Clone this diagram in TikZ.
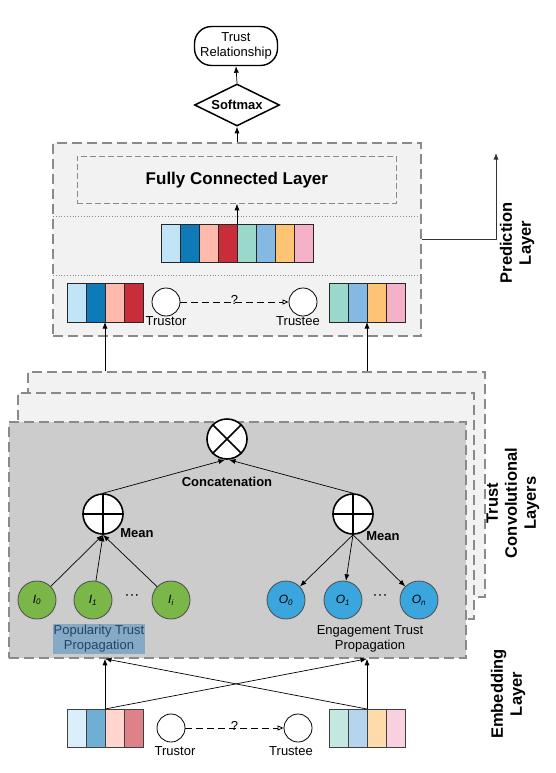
\documentclass[tikz,border=0pt]{standalone}
\usepackage{fontspec}
\setmainfont{Liberation Sans}
\usetikzlibrary{arrows.meta,shapes.geometric,calc}
\definecolor{c1}{HTML}{C1E4F7}
\definecolor{c2}{HTML}{0F7AB8}
\definecolor{c3}{HTML}{FFB9AD}
\definecolor{c4}{HTML}{C92D39}
\definecolor{c5}{HTML}{9AD8CB}
\definecolor{c6}{HTML}{83B9E3}
\definecolor{c7}{HTML}{FFC374}
\definecolor{c8}{HTML}{F5B1C8}
\definecolor{laygray}{HTML}{8A8A8A}
\definecolor{lightfill}{HTML}{F2F2F2}
\definecolor{frontfill}{HTML}{CCCCCC}
\definecolor{greenc}{HTML}{7AB648}
\definecolor{bluec}{HTML}{3AA6DD}
\definecolor{hlfill}{HTML}{86A9C5}
\definecolor{hltext}{HTML}{1F4569}
\begin{document}
\begin{tikzpicture}[x=1pt,y=-1pt,
  layerbox/.style={draw=laygray, line width=1.8pt, dash pattern=on 10pt off 5pt},
  cellbox/.style={draw=black!85, line width=0.8pt, minimum width=19pt, minimum height=38pt, inner sep=0pt, anchor=north west, outer sep=0pt},
  arr/.style={-{Latex[length=6.5pt,width=5pt]}, line width=0.7pt},
  txt/.style={font=\fontsize{13}{15}\selectfont, align=center, inner sep=0pt},
  btxt/.style={font=\bfseries\fontsize{13}{15}\selectfont, align=center, inner sep=0pt},
  dotstxt/.style={font=\fontsize{15}{15}\selectfont, inner sep=0pt},
  sidelabel/.style={font=\bfseries\fontsize{16.5}{19}\selectfont, align=center, rotate=90, inner sep=0pt},
  opcircle/.style={circle, draw=black, line width=1.6pt, fill=white, minimum size=40pt, inner sep=0pt},
  usercircle/.style={circle, draw=black, line width=0.8pt, fill=white, minimum size=28pt, inner sep=0pt},
  greennode/.style={circle, draw=black!70, line width=0.8pt, fill=greenc, minimum size=38pt, inner sep=0pt, font=\itshape\fontsize{12}{14}\selectfont},
  bluenode/.style={circle, draw=black!70, line width=0.8pt, fill=bluec, minimum size=38pt, inner sep=0pt, font=\itshape\fontsize{12}{14}\selectfont}
]
\useasboundingbox (0,0) rectangle (556,773);

% ---------- top: trust relationship and softmax ----------
\node[draw=black, line width=1.4pt, rounded corners=17pt, minimum width=83pt, minimum height=39pt, txt] (rel) at (236,46) {Trust\\Relationship};
\node[diamond, draw=black, line width=1.5pt, fill=white, minimum width=85pt, minimum height=42pt, aspect=2.1, inner sep=0pt, btxt] (soft) at (237,105) {Softmax};

% ---------- prediction layer ----------
\node[layerbox, fill=lightfill, minimum width=368pt, minimum height=193pt, inner sep=0pt, anchor=north west] (pred) at (52,142) {};
\node[draw=laygray, line width=0.8pt, dash pattern=on 6pt off 3pt, minimum width=319pt, minimum height=47pt, anchor=north west, inner sep=0pt, font=\bfseries\fontsize{17}{20}\selectfont] (fc) at (77,156) {Fully Connected Layer};
\coordinate (dl1a) at (53,216); \coordinate (dl1b) at (419,216);
\coordinate (dl2a) at (53,275); \coordinate (dl2b) at (419,275);
\draw[laygray, line width=0.8pt, dotted] (dl1a) -- (dl1b);
\draw[laygray, line width=0.8pt, dotted] (dl2a) -- (dl2b);

\foreach \i/\c in {0/c1,1/c2,2/c3,3/c4,4/c5,5/c6,6/c7,7/c8}{
  \node[cellbox, fill=\c] (pm\i) at ({161+19*\i},224) {};
}
\foreach \i/\c in {0/c1,1/c2,2/c3,3/c4}{
  \node[cellbox, fill=\c, minimum height=39pt] (pl\i) at ({67+19*\i},283) {};
}
\foreach \i/\c in {0/c5,1/c6,2/c7,3/c8}{
  \node[cellbox, fill=\c, minimum height=39pt] (pr\i) at ({329+19*\i},283) {};
}
\draw[arr] (pm3.north east) -- (fc.south -| pm3.north east);

\node[usercircle] (ptor) at (166,302) {};
\node[usercircle] (ptee) at (303,302) {};
\draw[line width=0.8pt, dash pattern=on 7pt off 4pt, -{Triangle[open,length=6pt,width=5pt]}] (ptor) -- node[above=-1pt, txt, yshift=-2pt] (pq) {?} (ptee);
\node[txt, anchor=north] (ptorl) at (166,316) {Trustor};
\node[txt, anchor=north] (pteel) at (298,316) {Trustee};

\draw[arr] (pred.north -| soft.south) -- (soft.south);
\draw[arr] (soft.north) -- (rel.south);

% side arrow and label
\coordinate (sideA) at (496,239);
\coordinate (sideB) at (496,153);
\draw[black!80, line width=0.7pt, -{Latex[length=6.5pt,width=5pt]}] (pred.east |- sideA) -- (sideA) -- (sideB);
\node[sidelabel] (predlab) at (517,243) {Prediction\\Layer};

% ---------- trust convolutional layers ----------
\node[layerbox, fill=lightfill, minimum width=457pt, minimum height=225pt, anchor=north west, inner sep=0pt] (back) at (27,371) {};
\node[layerbox, fill=lightfill, minimum width=456pt, minimum height=226pt, anchor=north west, inner sep=0pt] (mid) at (17,392) {};
\node[layerbox, fill=frontfill, minimum width=457pt, minimum height=236pt, anchor=north west, inner sep=0pt] (front) at (8,421) {};

\draw[arr] (back.north -| pl1.south east) -- (pl1.south east);
\draw[arr] (back.north -| pr1.south east) -- (pr1.south east);

\node[opcircle] (otimes) at (227,439) {};
\draw[line width=1.6pt] (otimes.45) -- (otimes.225) (otimes.135) -- (otimes.315);
\node[opcircle] (plusL) at (103,514) {};
\draw[line width=1.6pt] (plusL.north) -- (plusL.south) (plusL.west) -- (plusL.east);
\node[opcircle] (plusR) at (353,514) {};
\draw[line width=1.6pt] (plusR.north) -- (plusR.south) (plusR.west) -- (plusR.east);

\draw[arr] (plusL.north) -- ([xshift=-2pt]otimes.south);
\draw[arr] (plusR.north) -- ([xshift=2pt]otimes.south);
\node[btxt] (concat) at (227,482) {Concatenation};
\node[btxt] (meanL) at (137,533) {Mean};
\node[btxt] (meanR) at (383,536) {Mean};

\node[greennode] (g0) at (37,600) {I\textsubscript{0}};
\node[greennode] (g1) at (93,600) {I\textsubscript{1}};
\node[greennode] (gi) at (171,600) {I\textsubscript{i}};
\node[dotstxt] (gdots) at (132,597) {···};
\node[bluenode] (o0) at (286,600) {O\textsubscript{0}};
\node[bluenode] (o1) at (343,600) {O\textsubscript{1}};
\node[bluenode] (on) at (419,600) {O\textsubscript{n}};
\node[dotstxt] (odots) at (380,597) {···};

\draw[arr] (g0) -- (plusL.south);
\draw[arr] (g1) -- (plusL.south);
\draw[arr] (gi) -- (plusL.south);
\draw[arr] (plusR.south) -- (o0);
\draw[arr] (plusR.south) -- (o1);
\draw[arr] (plusR.south) -- (on);

\node[txt, fill=hlfill, text=hltext, inner sep=1pt] (poplab) at (99,639) {Popularity Trust\\Propagation};
\node[txt] (englab) at (370,639) {Engagement Trust\\Propagation};

\node[sidelabel] (convlab) at (513,503) {Trust\\Convolutional\\Layers};

% ---------- embedding layer ----------
\foreach \i/\c in {0/c1,1/c2,2/c3,3/c4}{
  \node[cellbox, fill=\c!60!white, draw=black!75] (el\i) at ({67+19*\i},709) {};
}
\foreach \i/\c in {0/c5,1/c6,2/c7,3/c8}{
  \node[cellbox, fill=\c!60!white, draw=black!75] (er\i) at ({329+19*\i},709) {};
}
\node[usercircle] (etor) at (171,728) {};
\node[usercircle] (etee) at (298,728) {};
\draw[line width=0.8pt, dash pattern=on 7pt off 4pt, -{Triangle[open,length=6pt,width=5pt]}] (etor) -- node[above=-1pt, txt, yshift=-2pt] (eq) {?} (etee);
\node[txt, anchor=north] (etorl) at (175,746) {Trustor};
\node[txt, anchor=north] (eteel) at (291,746) {Trustee};

\draw[arr] (el1.north east) -- (front.south -| el1.north east);
\draw[arr] (el1.north east) -- (front.south -| er1.north east);
\draw[arr] (er1.north east) -- (front.south -| er1.north east);
\draw[arr] (er1.north east) -- (front.south -| el1.north east);

\node[sidelabel] (emblab) at (508,694) {Embedding\\Layer};
\end{tikzpicture}
\end{document}
